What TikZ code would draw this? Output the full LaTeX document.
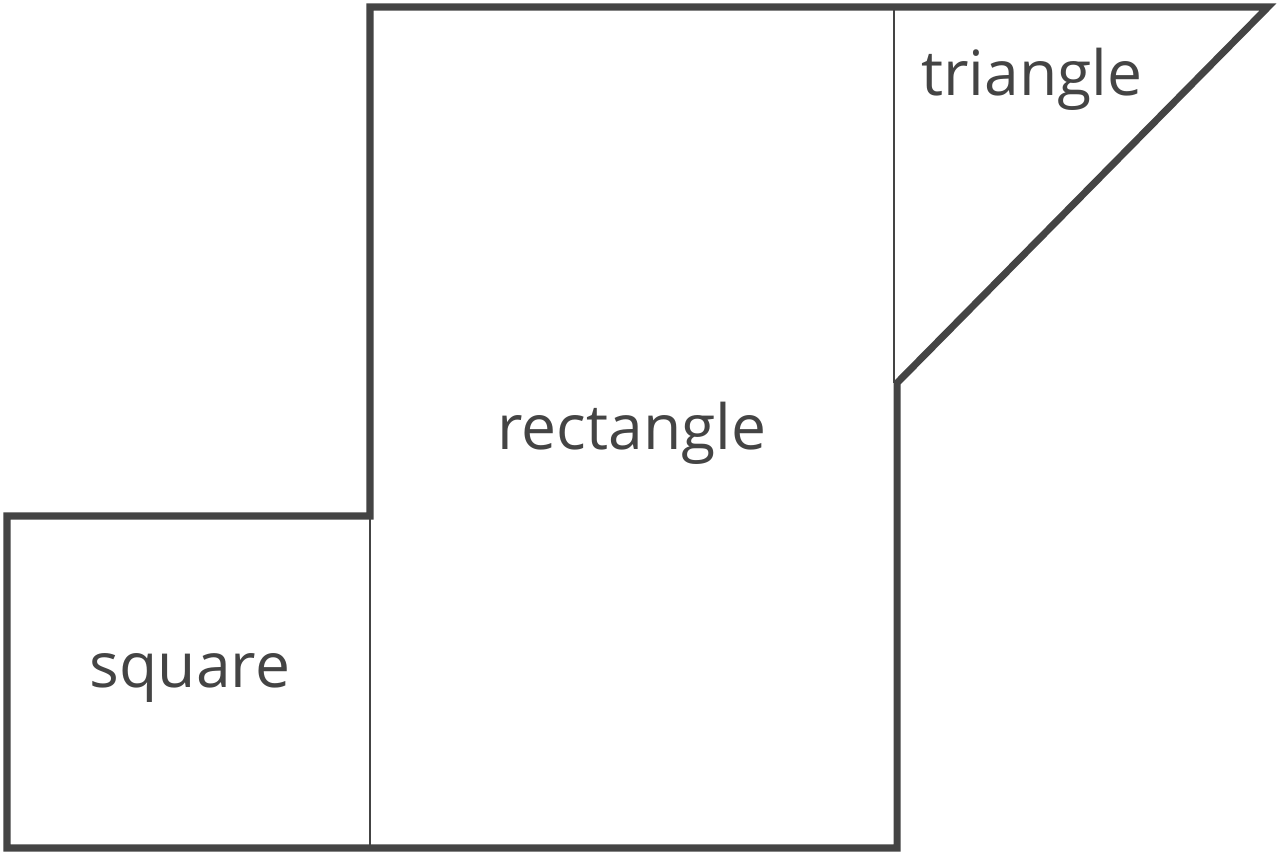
\documentclass[tikz,border=0pt]{standalone}
\usepackage{fontspec}
\setmainfont{Open Sans}
\definecolor{ink}{HTML}{444444}
\tikzstyle{outline} = [line width=4pt, color=ink, line join=miter]
\tikzstyle{divider} = [line width=1.6pt, color=ink]
\tikzstyle{lbl} = [text=ink, font=\fontsize{35.5}{42}\selectfont]

\begin{document}
\begin{tikzpicture}[x=0.02cm, y=-0.02cm]
  \useasboundingbox (0,0) rectangle (1280,854);
  \draw [outline] (7,516) -- (370,516) -- (370,7) -- (1268,7) -- (897,383)
    -- (897,848) -- (7,848) -- cycle;
  \draw [divider] (370,516) -- (370,848);
  \draw [divider] (894,7) -- (894,383);
  \node (sq) at (190,678) [lbl] {square};
  \node (re) at (632,433) [lbl] {rectangle};
  \node (tr) at (1032,79) [lbl] {triangle};
\end{tikzpicture}
\end{document}
